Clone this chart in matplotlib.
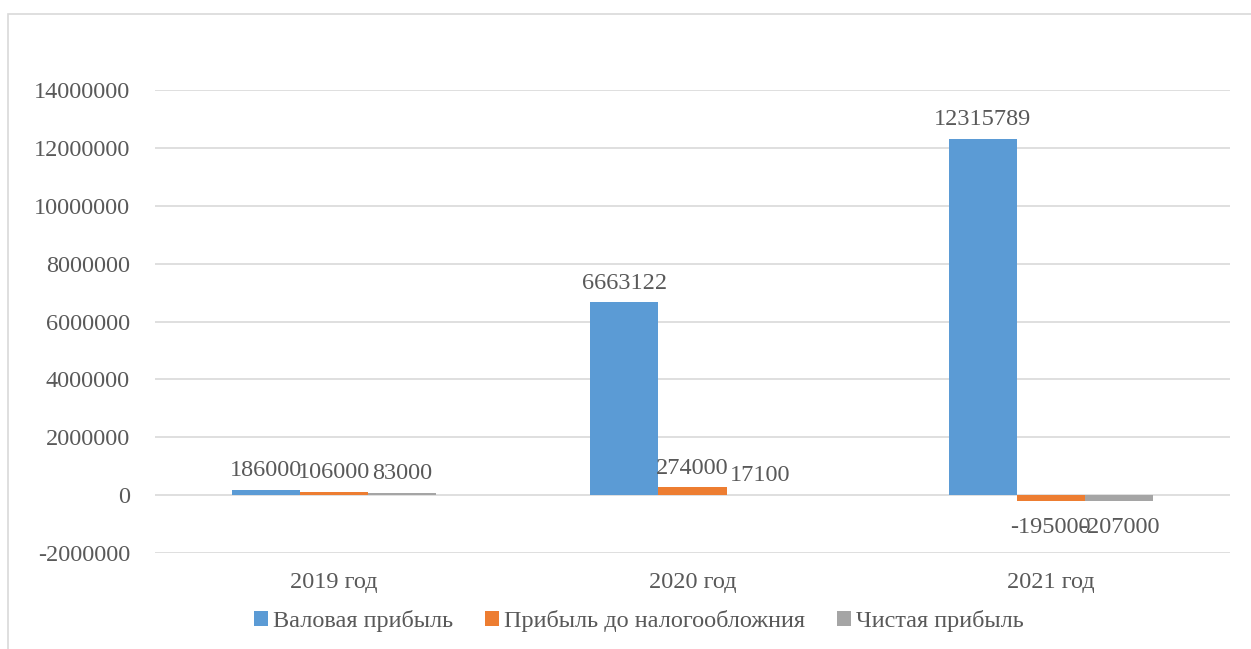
import numpy as np
import matplotlib.pyplot as plt
from matplotlib.patches import Rectangle

plt.rcParams['font.family'] = ['Liberation Serif', 'DejaVu Serif']

years = ['2019 год', '2020 год', '2021 год']
series_names = ['Валовая прибыль', 'Прибыль до налогообложния', 'Чистая прибыль']
gross = [186000, 6663122, 12315789]
pretax = [106000, 274000, -195000]
net = [83000, 17100, -207000]
colors = ['#5b9bd5', '#ed7d31', '#a5a5a5']
text_color = '#595959'

fig = plt.figure(figsize=(12.51, 6.49), dpi=100)
ax = fig.add_axes([155 / 1251, 1 - 553 / 649, (1230 - 155) / 1251, (553 - 90) / 649])

# outer chart frame (like Excel chart area)
fig.patches.append(Rectangle((8 / 1251, -0.1), 1.2, 1 - 14 / 649 + 0.1, transform=fig.transFigure,
                             fill=False, edgecolor='#d9d9d9', linewidth=1.2))

x = np.arange(len(years))
w = 0.19
for i, (vals, name, c) in enumerate(zip([gross, pretax, net], series_names, colors)):
    pos = x + (i - 1) * w
    ax.bar(pos, vals, w, color=c, label=name, zorder=3)
    for p, v in zip(pos, vals):
        if v >= 0:
            ax.text(p, v + 300000, str(v), ha='center', va='bottom', fontsize=17.5, color=text_color)
        else:
            ax.text(p, v - 550000, str(v), ha='center', va='top', fontsize=17.5, color=text_color)

ax.set_xlim(-0.5, 2.5)
ax.set_ylim(-2000000, 14000000)
ax.set_yticks(np.arange(-2000000, 14000001, 2000000))
ax.set_yticklabels([str(t) for t in np.arange(-2000000, 14000001, 2000000)])
ax.set_xticks(x)
ax.set_xticklabels(years)
ax.tick_params(length=0, labelsize=17.5, labelcolor=text_color)
ax.tick_params(axis='y', pad=18)
ax.tick_params(axis='x', pad=14)
ax.grid(axis='y', color='#d9d9d9', linewidth=1.2, zorder=0)
for s in ax.spines.values():
    s.set_visible(False)

ax.legend(loc='center', bbox_to_anchor=(0.45, -0.147), ncol=3, frameon=False, fontsize=17.5,
          handlelength=0.6, handleheight=0.6, handletextpad=0.2, columnspacing=1.3,
          labelcolor=text_color)

fig.savefig('out.png', dpi=100)
